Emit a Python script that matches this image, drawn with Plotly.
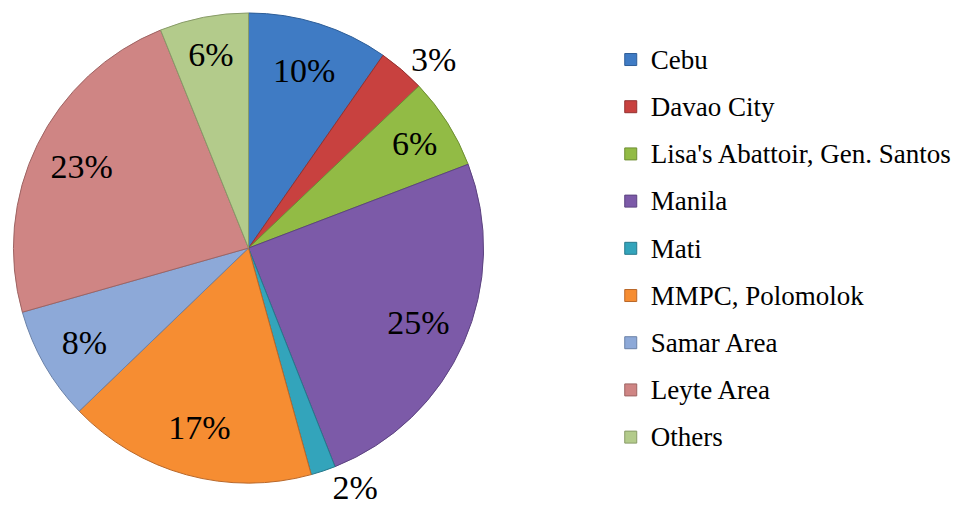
import plotly.graph_objects as go

categories = ["Cebu", "Davao City", "Lisa's Abattoir, Gen. Santos", "Manila", "Mati",
              "MMPC, Polomolok", "Samar Area", "Leyte Area", "Others"]
shares = [9.7, 3.2, 6.3, 24.8, 1.7, 17.1, 7.8, 23.3, 6.1]
colors = ["#3F7BC4", "#C8413F", "#92BB45", "#7C5AA8", "#33A4BB",
          "#F68D32", "#8DA9D8", "#CF8584", "#B3CB8B"]
edge_colors = ["#2E5E98", "#943231", "#6E8E33", "#5C4380", "#26798C",
               "#B9682A", "#6B82A8", "#9E6463", "#889B68"]
text_pos = ["inside", "outside", "inside", "inside", "outside",
            "inside", "inside", "inside", "inside"]

legend_labels = [f"<span style='font-size:27px;baseline-shift:4px'>{c}</span>"
                 for c in categories]

pie_domain = dict(x=[3/963, 475/963], y=[1 - 475/510, 1 - 3/510])

# Base pie: the coloured slices
fig = go.Figure(go.Pie(
    labels=legend_labels,
    values=shares,
    sort=False,
    direction="clockwise",
    rotation=0,
    marker=dict(colors=colors, line=dict(color=edge_colors, width=1)),
    textinfo="none",
    domain=pie_domain,
    hoverinfo="skip",
    showlegend=True,
))

# Transparent ring on top, carrying the percentage labels further out
fig.add_trace(go.Pie(
    labels=legend_labels,
    values=shares,
    sort=False,
    direction="clockwise",
    rotation=0,
    hole=0.58,
    marker=dict(colors=["rgba(0,0,0,0)"] * len(shares), line=dict(width=0)),
    texttemplate="%{percent:.0%}",
    textposition=text_pos,
    insidetextorientation="horizontal",
    textfont=dict(family="Liberation Serif", size=34, color="#000000"),
    domain=pie_domain,
    hoverinfo="label+percent",
    showlegend=False,
))

fig.update_layout(
    width=963, height=510,
    margin=dict(l=0, r=0, t=0, b=0),
    paper_bgcolor="#FFFFFF",
    plot_bgcolor="#FFFFFF",
    showlegend=True,
    uniformtext=dict(minsize=34, mode="show"),
    legend=dict(
        x=602/963, xanchor="left",
        y=1 - 21/510, yanchor="top",
        font=dict(family="Liberation Serif", size=34, color="#000000"),
        bgcolor="rgba(0,0,0,0)",
    ),
)

fig.write_html("out.html")
